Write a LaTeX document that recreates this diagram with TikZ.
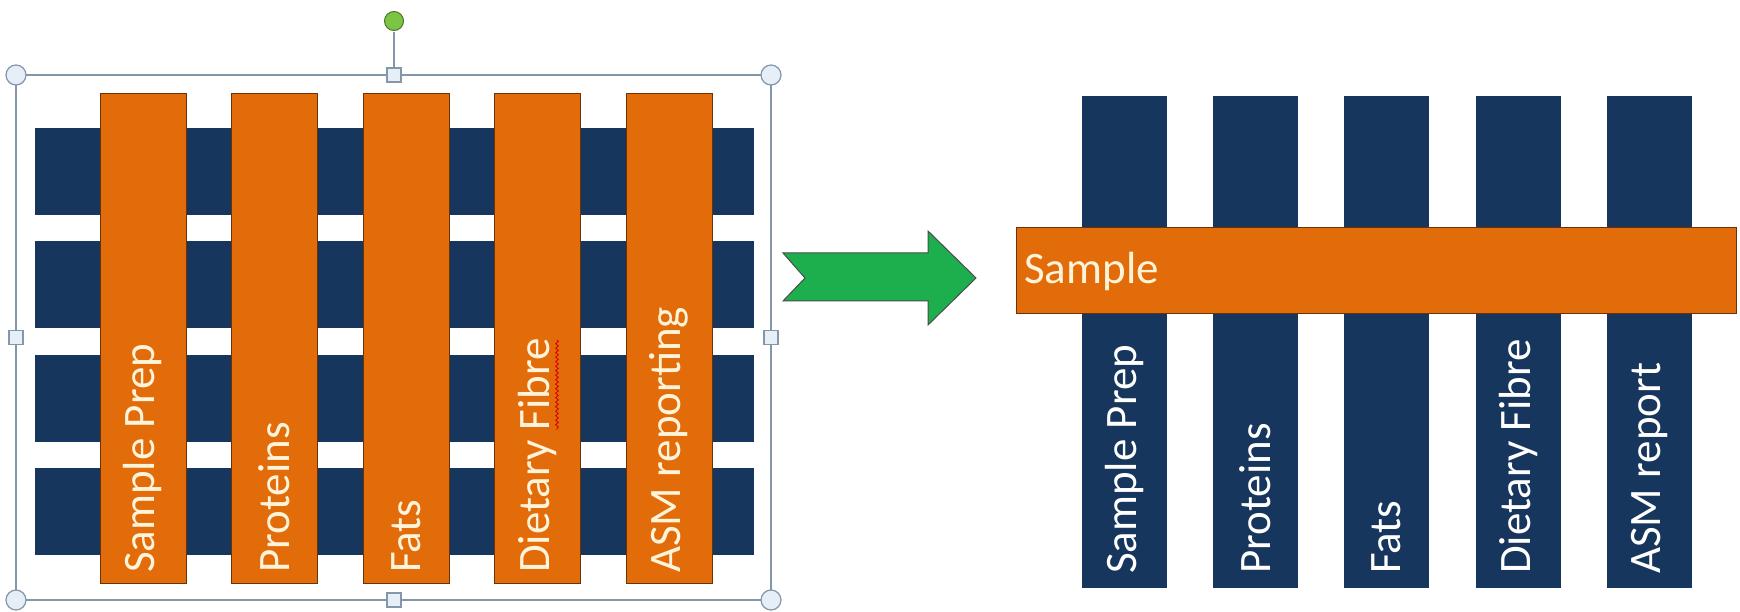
\documentclass[tikz,border=0pt]{standalone}
\usepackage{fontspec}
\setmainfont{Carlito}
\usetikzlibrary{decorations.pathmorphing}
\definecolor{navy}{HTML}{17365D}
\definecolor{orng}{HTML}{E36C0A}
\definecolor{orngline}{HTML}{6B3208}
\definecolor{cream}{HTML}{FFF4DA}
\definecolor{arrowgreen}{HTML}{1DAF4E}
\definecolor{framecol}{HTML}{8496AA}
\definecolor{handlefill}{HTML}{E6EEF7}
\definecolor{knobgreen}{HTML}{7CC443}
\tikzset{
  navybar/.style={fill=navy, draw=none, inner sep=0pt, outer sep=0pt},
  orngbar/.style={fill=orng, draw=orngline, line width=1pt, inner sep=0pt, outer sep=0pt},
  vlabel/.style={rotate=90, anchor=west, inner sep=0pt, font=\fontsize{45}{52}\selectfont},
  framebox/.style={draw=framecol, line width=1.5pt},
  roundhandle/.style={circle, draw=framecol, fill=handlefill, line width=1.2pt, minimum size=20pt, inner sep=0pt},
  squarehandle/.style={rectangle, draw=framecol, fill=handlefill, line width=1.2pt, minimum size=14pt, inner sep=0pt},
}
\begin{document}
\begin{tikzpicture}[x=1pt,y=-1pt]
\useasboundingbox (0,0) rectangle (1740,612);
\fill[white] (0,0) rectangle (1740,612);

% ---------- left panel: navy rows ----------
\foreach \i/\yy in {1/171.5,2/284.8,3/398.2,4/511.5}{
  \node[navybar, minimum width=719pt, minimum height=87pt] (row\i) at (394.5,\yy) {};
}
% orange columns
\foreach \i/\xx in {1/143,2/274.5,3/406,4/537.5,5/669}{
  \node[orngbar, minimum width=86pt, minimum height=489pt] (col\i) at (\xx,338.5) {};
}
\node[vlabel, text=cream] (lt1) at (143,573) {Sample Prep};
\node[vlabel, text=cream] (lt2) at (274.5,573) {Proteins};
\node[vlabel, text=cream] (lt3) at (406,573) {Fats};
\node[vlabel, text=cream] (lt4) at (537.5,573) {Dietary Fibre};
\node[vlabel, text=cream] (lt5) at (669,573) {ASM reporting};
% spell-check squiggle under "Fibre"
\draw[red!85!black, line width=0.9pt, decorate, decoration={snake, amplitude=1.3pt, segment length=4.5pt}] (557,340) -- (557,430);

% selection frame
\draw[framebox] (16,75) rectangle (771,600);
\coordinate (stemtop) at (394,32);
\node[squarehandle] (hT) at (394,75) {};
\draw[framebox] (stemtop) -- (hT.north);
\node[circle, draw=knobgreen!60!black, fill=knobgreen, line width=1pt, minimum size=19pt, inner sep=0pt] (knob) at (394,21) {};
\node[roundhandle] (hTL) at (16,75) {};
\node[roundhandle] (hTR) at (771,75) {};
\node[roundhandle] (hBL) at (16,600) {};
\node[roundhandle] (hBR) at (771,600) {};
\node[squarehandle] (hB) at (394,600) {};
\node[squarehandle] (hL) at (16,337.5) {};
\node[squarehandle] (hR) at (771,337.5) {};

% ---------- block arrow ----------
\fill[arrowgreen, draw=black!70, line width=1pt]
  (783,253) -- (928,253) -- (928,231) -- (976,278) -- (928,325) -- (928,301) -- (783,301) -- (805,278) -- cycle;

% ---------- right panel ----------
\foreach \i/\xx in {1/1124.5,2/1255.5,3/1386.5,4/1518.5,5/1649.5}{
  \node[navybar, minimum width=85pt, minimum height=492pt] (rc\i) at (\xx,342) {};
}
\node[vlabel, text=white] (rt1) at (1124.5,574) {Sample Prep};
\node[vlabel, text=white] (rt2) at (1255.5,574) {Proteins};
\node[vlabel, text=white] (rt3) at (1386.5,574) {Fats};
\node[vlabel, text=white] (rt4) at (1518.5,574) {Dietary Fibre};
\node[vlabel, text=white] (rt5) at (1649.5,574) {ASM report};
\node[orngbar, minimum width=720pt, minimum height=86pt] (samplebar) at (1376,271) {};
\node[anchor=base west, inner sep=0pt, text=cream, font=\fontsize{45}{52}\selectfont] (sampletxt) at (1024,284) {Sample};
\end{tikzpicture}
\end{document}
